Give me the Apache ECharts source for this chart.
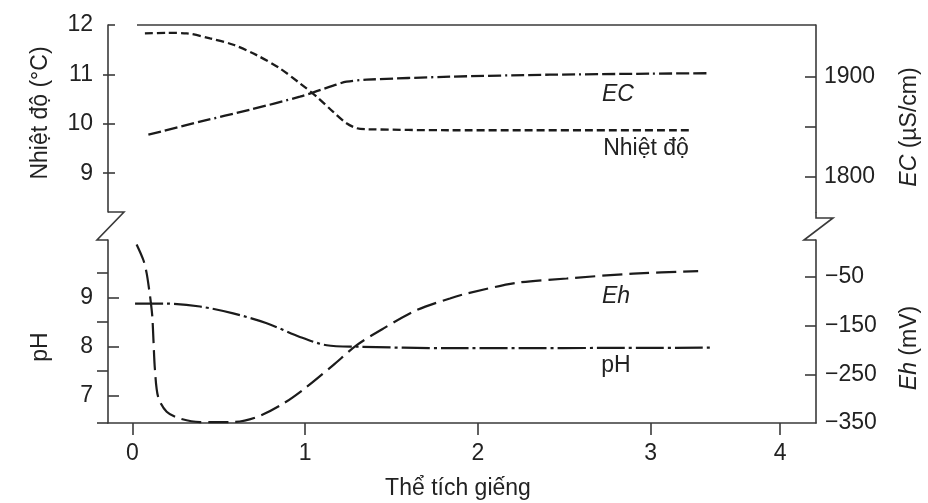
<!DOCTYPE html>
<html>
<head>
<meta charset="utf-8">
<script src="https://cdn.jsdelivr.net/npm/echarts@6/dist/echarts.min.js"></script>
<style>
  html, body { margin: 0; padding: 0; background: #ffffff; }
  #chart { width: 928px; height: 503px; }
</style>
</head>
<body>
<div id="chart"></div>
<script>
// Well-purging record: field parameters versus purged well volumes.

// Horizontal axis: well volumes
const volumeTicks = [0, 1, 2, 3, 3.75];
const volumeTickLabels = ['0', '1', '2', '3', '4'];

// Temperature (°C)
const tempVolume = [0.073, 0.2, 0.315, 0.45, 0.585, 0.72, 0.855, 0.97, 1.067, 1.163, 1.24, 1.30, 1.356, 1.84, 3.23];
const temperature = [11.83, 11.84, 11.83, 11.73, 11.60, 11.39, 11.12, 10.82, 10.55, 10.24, 10.01, 9.91, 9.89, 9.87, 9.87];

// Electrical conductivity (µS/cm)
const ecVolume = [0.093, 0.392, 0.681, 0.97, 1.163, 1.24, 1.356, 1.838, 2.417, 2.996, 3.343];
const conductivity = [1842, 1855, 1867, 1880, 1891, 1895, 1897, 1900, 1902, 1903, 1903.5];

// pH
const phVolume = [0.016, 0.199, 0.392, 0.584, 0.778, 0.97, 1.125, 1.299, 1.838, 3.343];
const phValues = [8.88, 8.88, 8.82, 8.68, 8.48, 8.20, 8.03, 8.00, 7.97, 7.98];

// Redox potential Eh (mV)
const ehVolume = [0.025, 0.064, 0.083, 0.098, 0.108, 0.116, 0.122, 0.131, 0.150, 0.199, 0.276, 0.392, 0.584, 0.72, 0.874, 1.009, 1.163, 1.299, 1.452, 1.646, 1.838, 1.935, 2.224, 2.514, 2.899, 3.275];
const ehValues = [17, -15, -42, -77, -104, -132, -176, -240, -297, -327, -341, -348, -348, -338, -310, -276, -231, -190, -156, -118, -94, -84, -62, -53, -43, -38];

// Axis tick sets
const tempTicks = [9, 10, 11, 12];
const ecTickLabels = [1800, 1900];
const ecTicks = [1800, 1850, 1900];
const phTicks = [7, 8, 9];
const phMinorTicks = [7.5, 8.5, 9.5];
const ehTickLabels = [-350, -250, -150, -50];
const ehTicks = [-250, -150, -50];

const zip = (xs, ys) => xs.map((x, i) => [x, ys[i]]);

const FONT = "'Liberation Sans', Arial, Helvetica, sans-serif";
const INK = '#1b1b1b';
const AXIS = '#3a3a3a';
const TEXT = '#222222';
const FS = 23;
const X_MIN = -0.1406, X_MAX = 3.957;

const axisLineStyle = { color: AXIS, width: 1.6 };
const labelStyle = { fontFamily: FONT, fontSize: FS, color: TEXT };
const plain = v => String(v);

function valueAxis(extra) {
  return Object.assign({
    type: 'value',
    splitLine: { show: false },
    axisLine: { show: true, onZero: false, lineStyle: axisLineStyle },
    axisTick: { show: false },
    axisLabel: { show: false }
  }, extra);
}

const chart = echarts.init(document.getElementById('chart'), null, { renderer: 'canvas' });

const lineBase = (width) => ({ width: width, color: INK, cap: 'butt' });

function textEl(x, y, text, opts) {
  return Object.assign({
    type: 'text', x: x, y: y,
    style: Object.assign({
      text: text, font: FS + 'px ' + FONT, fill: TEXT,
      textAlign: 'center', textVerticalAlign: 'middle'
    }, (opts && opts.style) || {})
  }, (opts && opts.el) || {});
}

const italicRich = { i: { fontStyle: 'italic', fontSize: FS, fontFamily: FONT, fill: TEXT } };

chart.setOption({
  animation: false,
  backgroundColor: '#ffffff',
  grid: [
    { left: 108, right: 112, top: 25, height: 187, outerBoundsMode: 'none' },
    { left: 108, right: 112, top: 240, height: 183, outerBoundsMode: 'none' }
  ],
  xAxis: [
    valueAxis({ gridIndex: 0, min: X_MIN, max: X_MAX, show: false }),
    valueAxis({
      gridIndex: 1, min: X_MIN, max: X_MAX, position: 'bottom',
      axisTick: { show: true, customValues: volumeTicks, length: 12, lineStyle: axisLineStyle },
      axisLabel: {
        show: true, customValues: volumeTicks, margin: 19,
        formatter: v => volumeTickLabels[volumeTicks.indexOf(v)],
        ...labelStyle
      }
    })
  ],
  yAxis: [
    // temperature, upper left
    valueAxis({
      gridIndex: 0, position: 'left', min: 8.215, max: 12,
      axisTick: { show: true, customValues: [9, 10, 11], length: 5, lineStyle: axisLineStyle },
      axisLabel: { show: true, customValues: tempTicks, margin: 15, formatter: plain, ...labelStyle }
    }),
    valueAxis({
      gridIndex: 0, position: 'left', min: 8.215, max: 12,
      axisLine: { show: false, onZero: false },
      axisTick: { show: true, inside: true, customValues: tempTicks, length: 7, lineStyle: axisLineStyle }
    }),
    // conductivity, upper right
    valueAxis({
      gridIndex: 0, position: 'right', min: 1764.7, max: 1951.7,
      axisTick: { show: true, inside: true, customValues: ecTicks, length: 11, lineStyle: axisLineStyle },
      axisLabel: { show: true, customValues: ecTickLabels, margin: 8, formatter: plain, ...labelStyle }
    }),
    // pH, lower left
    valueAxis({
      gridIndex: 1, position: 'left', min: 6.443, max: 10.178,
      axisTick: { show: true, inside: true, customValues: phTicks, length: 11, lineStyle: axisLineStyle },
      axisLabel: { show: true, customValues: phTicks, margin: 15, formatter: plain, ...labelStyle }
    }),
    valueAxis({
      gridIndex: 1, position: 'left', min: 6.443, max: 10.178,
      axisLine: { show: false, onZero: false },
      axisTick: { show: true, customValues: phMinorTicks, length: 11, lineStyle: axisLineStyle }
    }),
    // Eh, lower right
    valueAxis({
      gridIndex: 1, position: 'right', min: -350, max: 26.1,
      axisTick: { show: true, inside: true, customValues: ehTicks, length: 11, lineStyle: axisLineStyle },
      axisLabel: {
        show: true, customValues: ehTickLabels, margin: 9,
        formatter: v => String(v).replace('-', '\u2212'),
        ...labelStyle
      }
    })
  ],
  series: [
    {
      name: 'Nhiệt độ', type: 'line', xAxisIndex: 0, yAxisIndex: 0,
      data: zip(tempVolume, temperature),
      showSymbol: false, smooth: 0.3,
      lineStyle: Object.assign(lineBase(2.3), { type: [8, 4] })
    },
    {
      name: 'EC', type: 'line', xAxisIndex: 0, yAxisIndex: 2,
      data: zip(ecVolume, conductivity),
      showSymbol: false, smooth: 0.3,
      lineStyle: Object.assign(lineBase(2.3), { type: [13, 4, 13, 4, 13, 4, 13, 4, 2, 4] })
    },
    {
      name: 'pH', type: 'line', xAxisIndex: 1, yAxisIndex: 3,
      data: zip(phVolume, phValues),
      showSymbol: false, smooth: 0.3,
      lineStyle: Object.assign(lineBase(2.2), { type: [28, 4, 3, 4] })
    },
    {
      name: 'Eh', type: 'line', xAxisIndex: 1, yAxisIndex: 5,
      data: zip(ehVolume, ehValues),
      showSymbol: false, smooth: 0.3,
      lineStyle: Object.assign(lineBase(2.2), { type: [20, 7] })
    }
  ],
  graphic: [
    // top frame line
    { type: 'line', shape: { x1: 137, y1: 25, x2: 816, y2: 25 }, style: { stroke: AXIS, lineWidth: 1.6 } },
    // axis break marks
    { type: 'polyline', shape: { points: [[108, 212], [124, 212], [97, 240], [108, 240]] }, style: { stroke: AXIS, lineWidth: 1.6, fill: null } },
    { type: 'polyline', shape: { points: [[816, 212], [816, 218], [833, 218], [804, 240], [816, 240]] }, style: { stroke: AXIS, lineWidth: 1.6, fill: null } },
    // bottom axis stub left of the pH axis
    { type: 'line', shape: { x1: 97, y1: 423, x2: 108, y2: 423 }, style: { stroke: AXIS, lineWidth: 1.6 } },
    // axis titles
    textEl(41, 113, 'Nhiệt độ (°C)', { el: { rotation: Math.PI / 2 } }),
    textEl(41, 347, 'pH', { el: { rotation: Math.PI / 2 } }),
    textEl(910, 127, '{i|EC} (µS/cm)', { el: { rotation: Math.PI / 2 }, style: { rich: italicRich } }),
    textEl(910, 348, '{i|Eh} (mV)', { el: { rotation: Math.PI / 2 }, style: { rich: italicRich } }),
    textEl(458, 489, 'Thể tích giếng'),
    // curve annotations
    textEl(618, 95, 'EC', { style: { font: 'italic ' + FS + 'px ' + FONT } }),
    textEl(646, 149, 'Nhiệt độ'),
    textEl(616, 297, 'Eh', { style: { font: 'italic ' + FS + 'px ' + FONT } }),
    textEl(616, 366, 'pH')
  ]
});
</script>
</body>
</html>
